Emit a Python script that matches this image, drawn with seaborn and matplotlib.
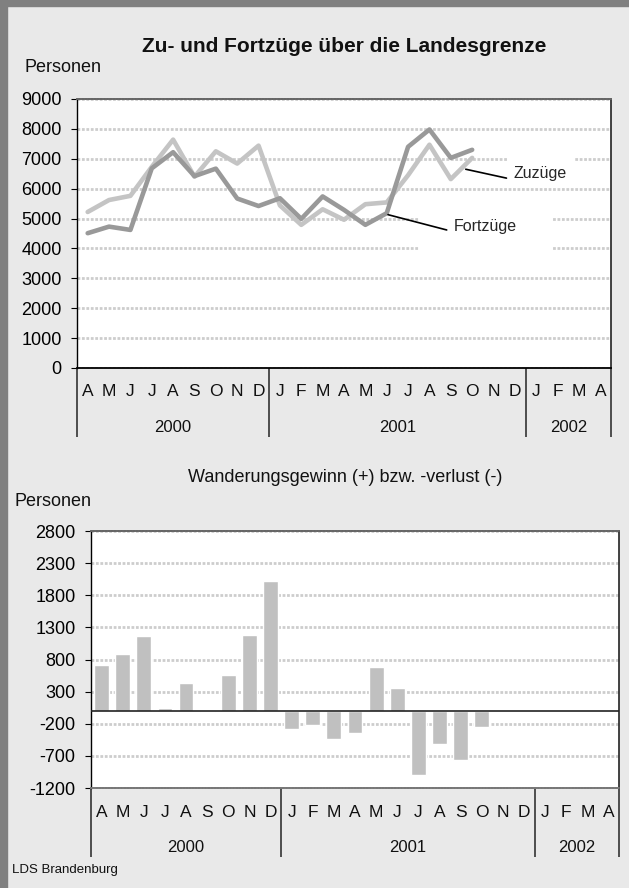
import numpy as np
import pandas as pd
import matplotlib
matplotlib.use('Agg')
import matplotlib.pyplot as plt
import seaborn as sns
from matplotlib.patches import Rectangle

# Monatsachse April 2000 bis April 2002
months = ['A', 'M', 'J', 'J', 'A', 'S', 'O', 'N', 'D',
          'J', 'F', 'M', 'A', 'M', 'J', 'J', 'A', 'S', 'O', 'N', 'D',
          'J', 'F', 'M', 'A']
year_labels = ['2000', '2001', '2002']
year_first = [0, 9, 21]
year_last = [8, 20, 24]

# Personen je Monat (April 2000 bis Oktober 2001)
zuzuege = [5220, 5620, 5760, 6730, 7640, 6400, 7250, 6840, 7440,
           5440, 4790, 5310, 4960, 5480, 5540, 6450, 7470, 6320, 7030]
fortzuege = [4510, 4730, 4620, 6680, 7220, 6420, 6670, 5670, 5420,
             5680, 4990, 5740, 5290, 4790, 5180, 7400, 7980, 7030, 7300]
saldo = [717, 888, 1166, 52, 439, -21, 562, 1182, 2017,
         -289, -212, -444, -351, 686, 361, -1001, -521, -764, -243]

sns.set_theme(style='white')
plt.rcParams['font.family'] = ['Liberation Sans', 'DejaVu Sans']

W, H = 629, 888
BG = '#e9e9e9'
fig = plt.figure(figsize=(W / 100, H / 100), dpi=100)
fig.patch.set_facecolor(BG)

# grauer Rahmen links und oben
fig.add_artist(Rectangle((0, 0), 7 / W, 1, transform=fig.transFigure,
                         color='#808080', zorder=0))
fig.add_artist(Rectangle((0, 1 - 6 / H), 1, 6 / H, transform=fig.transFigure,
                         color='#808080', zorder=0))


def px_axes(left, top, right, bottom):
    return fig.add_axes([left / W, 1 - bottom / H, (right - left) / W, (bottom - top) / H])


def style_axes(ax, height_px, ylim, yticks):
    ax.set_facecolor('white')
    ax.set_xlim(-0.5, len(months) - 0.5)
    ax.set_ylim(*ylim)
    ax.set_yticks(yticks)
    ax.set_yticklabels([str(v) for v in yticks])
    ax.set_xticks([])
    ax.set_xlabel('')
    ax.set_ylabel('')
    ax.set_axisbelow(True)
    ax.yaxis.grid(True, color='#cdcdcd', lw=2.0, linestyle=(0, (1, 0.6)))
    ax.tick_params(axis='y', left=True, direction='out', length=4.5, width=0.8,
                   color='black', labelsize=13, pad=6.5, labelcolor='black')
    ax.spines['left'].set_color('black')
    ax.spines['left'].set_linewidth(1.0)
    ax.spines['right'].set_color('#222222')
    ax.spines['right'].set_linewidth(1.2)
    ax.spines['top'].set_color('#666666')
    ax.spines['top'].set_linewidth(1.4)
    ax.spines['top'].set_linestyle((0, (1, 0.6)))

    # Monats- und Jahresbeschriftung unter der Achse
    tr = ax.get_xaxis_transform()
    for i, m in enumerate(months):
        ax.text(i, -24 / height_px, m, transform=tr, ha='center', va='center',
                fontsize=12.5, color='#111111')
    for lab, a, b in zip(year_labels, year_first, year_last):
        ax.text((a + b) / 2, -59 / height_px, lab, transform=tr, ha='center',
                va='center', fontsize=12, color='#111111')
    bounds = [year_first[0] - 0.5] + [b + 0.5 for b in year_last]
    ax.vlines(bounds, -69 / height_px, 0, transform=tr, colors='#333333',
              lw=1.2, clip_on=False)


# ---------- oberes Diagramm: Zu- und Fortzüge ----------
ax1 = px_axes(77, 99, 611, 368)
df = pd.DataFrame({'Monat': np.arange(len(zuzuege)),
                   'Zuzüge': zuzuege, 'Fortzüge': fortzuege})
sns.lineplot(data=df, x='Monat', y='Zuzüge', ax=ax1, color='#c4c4c4', lw=3.3, zorder=3)
sns.lineplot(data=df, x='Monat', y='Fortzüge', ax=ax1, color='#999999', lw=3.3, zorder=4)
style_axes(ax1, 269, (0, 9000), list(range(0, 9001, 1000)))
ax1.spines['bottom'].set_color('black')
ax1.spines['bottom'].set_linewidth(1.3)

# weiße Hintergründe der Beschriftungen
ax1.add_patch(Rectangle((19.7, 6100), 3.05, 1000, facecolor='white', edgecolor='none', zorder=2))
ax1.add_patch(Rectangle((15.5, 3700), 6.3, 2100, facecolor='white', edgecolor='none', zorder=2))
ax1.annotate('Zuzüge', xy=(17.7, 6650), xytext=(19.95, 6500), ha='left', va='center',
             fontsize=11.5, zorder=5,
             arrowprops=dict(arrowstyle='-', color='black', lw=1.2,
                             shrinkA=3, shrinkB=0, relpos=(0, 0.1)))
ax1.annotate('Fortzüge', xy=(14.06, 5130), xytext=(17.15, 4730), ha='left', va='center',
             fontsize=11.5, zorder=5,
             arrowprops=dict(arrowstyle='-', color='black', lw=1.2,
                             shrinkA=3, shrinkB=0, relpos=(0, 0.15)))

# ---------- unteres Diagramm: Wanderungssaldo ----------
ax2 = px_axes(91, 531, 619, 788)
sns.barplot(x=list(range(len(saldo))), y=saldo, ax=ax2, color='#c0c0c0',
            saturation=1, width=0.7, zorder=3)
style_axes(ax2, 257, (-1200, 2800), list(range(-1200, 2801, 500))[::-1])
ax2.set_yticks(list(range(-1200, 2801, 500)))
ax2.set_yticklabels([str(v) for v in range(-1200, 2801, 500)])
ax2.set_xlim(-0.5, len(months) - 0.5)
ax2.axhline(0, color='#222222', lw=1.2, zorder=4)
ax2.spines['bottom'].set_color('#777777')
ax2.spines['bottom'].set_linewidth(1.4)
ax2.spines['bottom'].set_linestyle((0, (1, 0.6)))

# ---------- Texte ----------
fig.text(344 / W, 1 - 47 / H, 'Zu- und Fortzüge über die Landesgrenze',
         ha='center', va='center', fontsize=15, fontweight='bold', color='#111111')
fig.text(25 / W, 1 - 67 / H, 'Personen', ha='left', va='center', fontsize=13, color='#111111')
fig.text(345 / W, 1 - 477 / H, 'Wanderungsgewinn (+) bzw. -verlust (-)',
         ha='center', va='center', fontsize=13, color='#111111')
fig.text(15 / W, 1 - 501 / H, 'Personen', ha='left', va='center', fontsize=13, color='#111111')
fig.text(12 / W, 1 - 870 / H, 'LDS Brandenburg', ha='left', va='center', fontsize=9.5,
         color='#111111')

fig.savefig('out.png', dpi=100, facecolor=BG)
